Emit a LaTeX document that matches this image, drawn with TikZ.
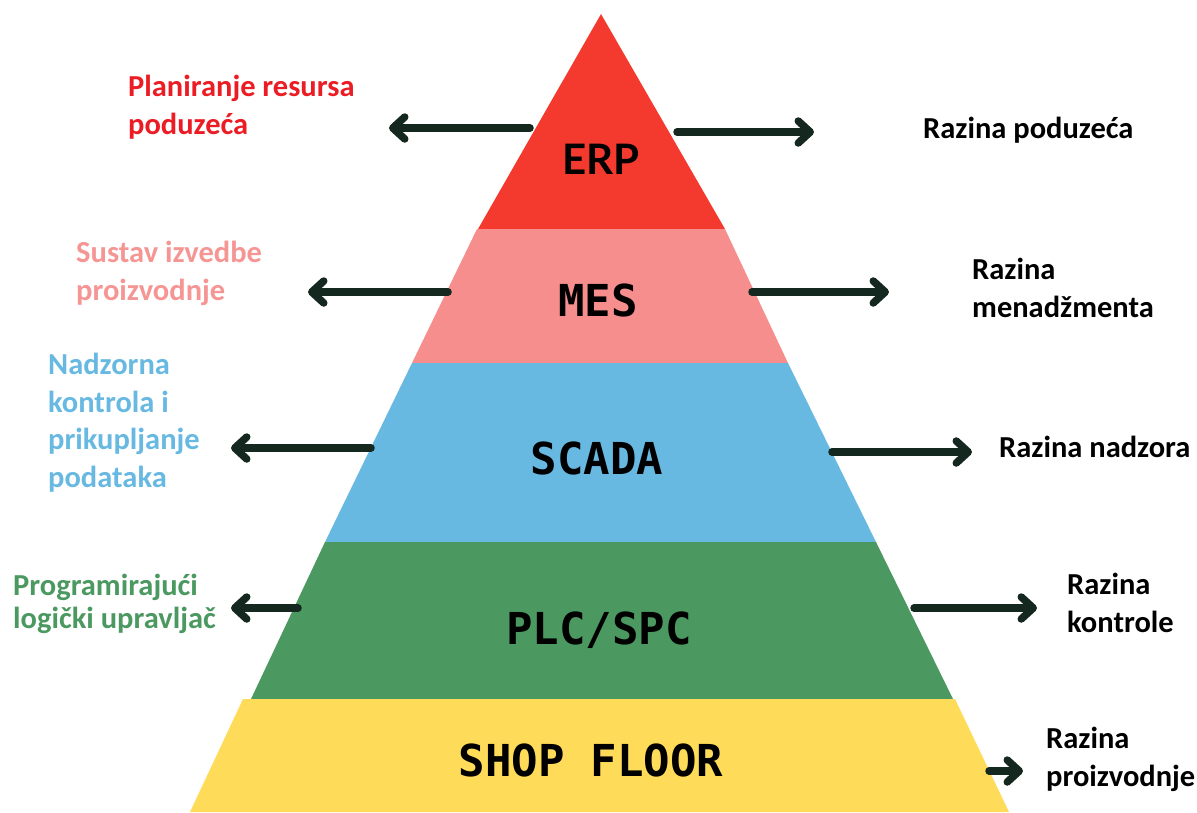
\documentclass[tikz,border=0pt]{standalone}
\usepackage{fontspec}
\setmainfont{Carlito}
\newfontfamily\monof{DejaVu Sans Mono}
\newfontfamily\latof{Lato}
\usetikzlibrary{arrows.meta}
\definecolor{erpc}{HTML}{F43A2F}
\definecolor{mesc}{HTML}{F68E8D}
\definecolor{scadac}{HTML}{68B9E2}
\definecolor{plcc}{HTML}{4B9961}
\definecolor{shopc}{HTML}{FEDB58}
\definecolor{redtxt}{HTML}{EC1C24}
\definecolor{pinktxt}{HTML}{F59694}
\definecolor{arrowc}{HTML}{14281F}
\begin{document}
\begin{tikzpicture}[x=1pt,y=-1pt,
  arr/.style={line width=7.5pt, draw=arrowc, line cap=round,
    -{Straight Barb[length=12pt,width=22pt,line width=7.5pt,round]}},
  lbl/.style={font=\fontsize{30.5}{38}\selectfont\bfseries, align=left, anchor=base west, inner sep=0pt},
  lay/.style={font=\monof\fontsize{44}{44}\bfseries\selectfont, anchor=base, inner sep=0pt}
]
\useasboundingbox (0,0) rectangle (1197,812);
% layers
\fill[erpc] (601,14) -- (478,229) -- (725,229) -- cycle;
\fill[mesc] (477,229) -- (725,229) -- (788,363) -- (412,363) -- cycle;
\fill[scadac] (412,363) -- (788,363) -- (876,542) -- (325,542) -- cycle;
\fill[plcc] (325,542) -- (876,542) -- (953,699) -- (251,699) -- cycle;
\fill[shopc] (243,699) -- (955,699) -- (1009,812) -- (190,812) -- cycle;
% layer titles
\node[inner sep=0pt, anchor=base, font=\latof\fontsize{42}{42}\bfseries\selectfont] (erp) at (601,174) {ERP};
\node[lay] (mes) at (598,316) {MES};
\node[lay] (scada) at (597,474) {SCADA};
\node[lay] (plc) at (599,644) {PLC/SPC};
\node[lay] (shop) at (591,776) {SHOP FLOOR};
% left labels (anchor = baseline of last line)
\node[lbl, text=redtxt] (l1) at (128,134) {Planiranje resursa\\poduzeća};
\node[lbl, text=pinktxt] (l2) at (76,300) {Sustav izvedbe\\proizvodnje};
\node[lbl, text=scadac, font=\fontsize{30.5}{37.5}\selectfont\bfseries] (l3) at (48,487) {Nadzorna\\kontrola i\\prikupljanje\\podataka};
\node[lbl, text=plcc, font=\fontsize{30.5}{33}\selectfont\bfseries] (l4) at (13,628) {Programirajući\\logički upravljač};
% right labels
\node[lbl] (r1) at (923,138) {Razina poduzeća};
\node[lbl] (r2) at (972,317) {Razina\\menadžmenta};
\node[lbl] (r3) at (999,457) {Razina nadzora};
\node[lbl] (r4) at (1067,632) {Razina\\kontrole};
\node[lbl] (r5) at (1046,786) {Razina\\proizvodnje};
% arrow end coordinates
\coordinate (a1s) at (530,128); \coordinate (a1e) at (389,128);
\coordinate (b1s) at (677,132); \coordinate (b1e) at (814,132);
\coordinate (a2s) at (448,292); \coordinate (a2e) at (308,292);
\coordinate (b2s) at (752,292); \coordinate (b2e) at (889,292);
\coordinate (a3s) at (371,448); \coordinate (a3e) at (231,448);
\coordinate (b3s) at (832,452); \coordinate (b3e) at (972,452);
\coordinate (a4s) at (298,608); \coordinate (a4e) at (231,608);
\coordinate (b4s) at (914,608); \coordinate (b4e) at (1037,608);
\coordinate (b5s) at (989,771); \coordinate (b5e) at (1023,771);
\foreach \s/\e in {a1s/a1e,b1s/b1e,a2s/a2e,b2s/b2e,a3s/a3e,b3s/b3e,a4s/a4e,b4s/b4e,b5s/b5e}
  \draw[arr] (\s) -- (\e);
\end{tikzpicture}
\end{document}
